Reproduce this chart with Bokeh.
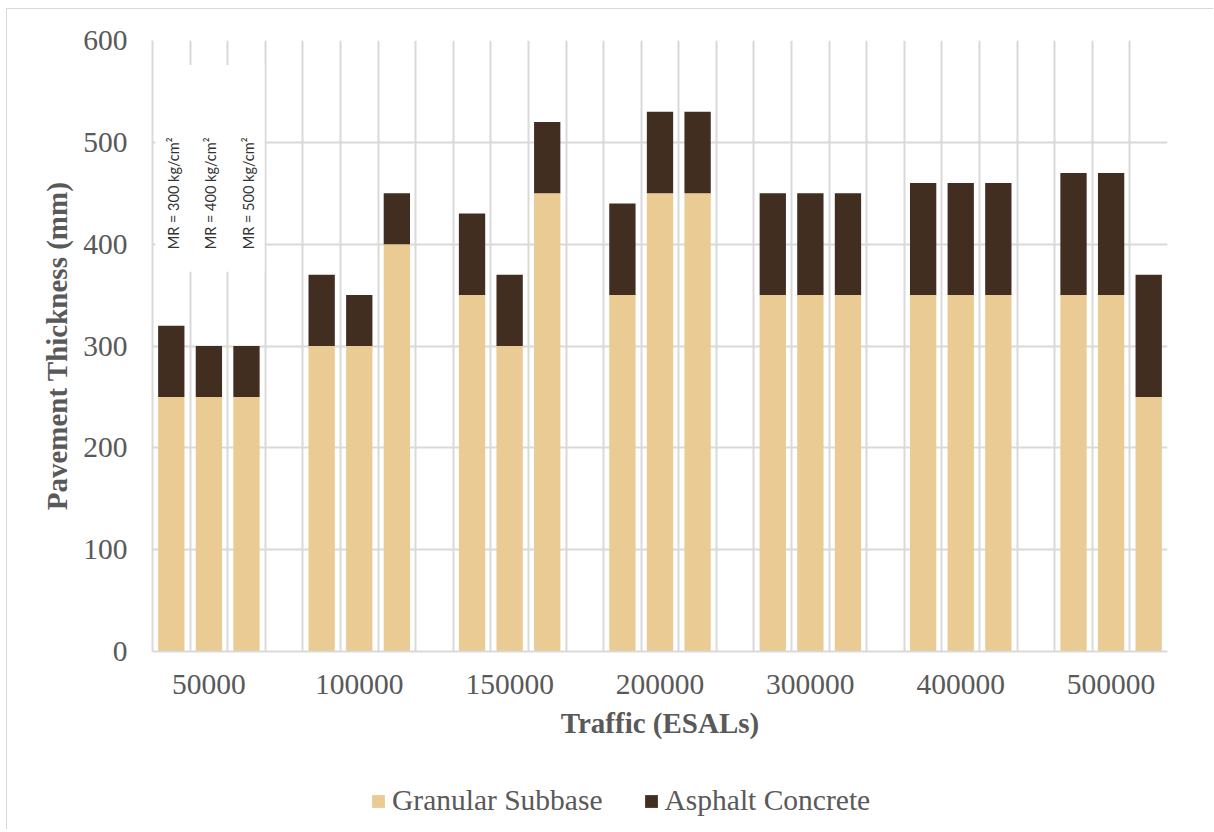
import math
from bokeh.plotting import figure
from bokeh.layouts import column
from bokeh.models import (ColumnDataSource, FixedTicker, Legend, LegendItem,
                          BoxAnnotation, Range1d)
from bokeh.core.properties import value
from bokeh.embed import file_html
from bokeh.resources import INLINE

# ---- data ----
traffic = ["50000", "100000", "150000", "200000", "300000", "400000", "500000"]
mr_labels = ["MR = 300 kg/cm\u00b2", "MR = 400 kg/cm\u00b2", "MR = 500 kg/cm\u00b2"]
# per traffic group: MR = 300, 400, 500
subbase = [
    [250, 250, 250],
    [300, 300, 400],
    [350, 300, 450],
    [350, 450, 450],
    [350, 350, 350],
    [350, 350, 350],
    [350, 350, 250],
]
asphalt = [
    [70, 50, 50],
    [70, 50, 50],
    [80, 70, 70],
    [90, 80, 80],
    [100, 100, 100],
    [110, 110, 110],
    [120, 120, 120],
]
series_names = ["Granular Subbase", "Asphalt Concrete"]
series_colors = ["#E9CB93", "#422E20"]

# ---- build source (4 category slots per group: 3 bars + a gap) ----
xs, sb, ac = [], [], []
for g in range(len(traffic)):
    for i in range(3):
        xs.append(g * 4 + i + 0.5)
        sb.append(subbase[g][i])
        ac.append(asphalt[g][i])
src = ColumnDataSource(dict(x=xs, subbase=sb, asphalt=ac))
n_slots = len(traffic) * 4 - 1

W = 1206
p = figure(width=W, height=760, output_backend="svg", toolbar_location=None,
           x_range=Range1d(0, n_slots), y_range=Range1d(0, 600),
           min_border_left=145, min_border_right=46, min_border_top=31,
           min_border_bottom=118)
p.outline_line_color = None
p.background_fill_color = "white"
p.border_fill_color = "white"

grid_color = "#d9d9d9"
p.xgrid.ticker = FixedTicker(ticks=list(range(0, n_slots + 1)))
p.ygrid.ticker = FixedTicker(ticks=list(range(0, 601, 100)))
for gr in (p.xgrid, p.ygrid):
    gr.grid_line_color = grid_color
    gr.grid_line_width = 2

# white box behind the MR labels (covers the gridlines there)
box = BoxAnnotation(left=0.08, right=2.98, bottom=373, top=576,
                    fill_color="white", fill_alpha=1.0, line_color=None,
                    level="underlay")
p.add_layout(box)

rs = p.vbar_stack(["subbase", "asphalt"], x="x", width=0.7, source=src,
                  color=series_colors, line_color=None)

# MR labels over the first group
lab_src = ColumnDataSource(dict(x=[0.55 + i for i in range(3)], y=[395] * 3,
                                text=mr_labels))
p.text(x="x", y="y", text="text", source=lab_src, angle=math.pi / 2,
       text_align="left", text_baseline="middle",
       text_font=value("Lato"), text_font_size="14.5px", text_color="#333333")

# axes
font = "Liberation Serif"
tick_color = "#595959"
p.yaxis.ticker = FixedTicker(ticks=list(range(0, 601, 100)))
p.xaxis.ticker = FixedTicker(ticks=[g * 4 + 1.5 for g in range(len(traffic))])
p.xaxis.major_label_overrides = {g * 4 + 1.5: t for g, t in enumerate(traffic)}
for ax in (p.xaxis[0], p.yaxis[0]):
    ax.major_tick_line_color = None
    ax.minor_tick_line_color = None
    ax.major_tick_out = 0
    ax.major_tick_in = 0
    ax.axis_line_color = grid_color
    ax.axis_line_width = 2
    ax.major_label_text_font = font
    ax.major_label_text_font_size = "29.5px"
    ax.major_label_text_color = tick_color
    ax.axis_label_text_font = font
    ax.axis_label_text_font_size = "29px"
    ax.axis_label_text_font_style = "bold"
    ax.axis_label_text_color = tick_color
p.xaxis.axis_label = "Traffic (ESALs)"
p.yaxis.axis_label = "Pavement Thickness (mm)"
p.yaxis.major_label_standoff = 25
p.xaxis.major_label_standoff = 23
p.xaxis.axis_label_standoff = 10
p.yaxis.axis_label_standoff = 7

# ---- legend strip (separate figure below the chart) ----
lg = figure(width=W, height=60, output_backend="svg", toolbar_location=None,
            x_axis_type=None, y_axis_type=None, min_border=0,
            x_range=Range1d(0, 1), y_range=Range1d(0, 1))
lg.outline_line_color = None
lg.xgrid.visible = False
lg.ygrid.visible = False
# swatch-only renderers (zero-height, outside the visible range)
sw0 = ColumnDataSource(dict(x=[-5], top=[0]))
sw1 = ColumnDataSource(dict(x=[-5], top=[0]))
r0 = lg.vbar(x="x", top="top", width=0.5, source=sw0,
             color=series_colors[0], line_color=None)
r1 = lg.vbar(x="x", top="top", width=0.5, source=sw1,
             color=series_colors[1], line_color=None)
legend = Legend(items=[LegendItem(label=series_names[0], renderers=[r0]),
                       LegendItem(label=series_names[1], renderers=[r1])],
                location=(218, 12), orientation="horizontal",
                glyph_width=16, glyph_height=16, label_standoff=6, spacing=40,
                padding=0, margin=0, border_line_color=None,
                background_fill_alpha=0,
                label_text_font=font, label_text_font_size="29.5px",
                label_text_color=tick_color)
lg.add_layout(legend)

layout = column(p, lg, spacing=0)
layout.styles = {"border-top": "1px solid #d9d9d9", "border-left": "1px solid #d9d9d9",
                 "margin-left": "6px", "margin-top": "8px"}

open("out.html", "w").write(file_html(layout, INLINE))
